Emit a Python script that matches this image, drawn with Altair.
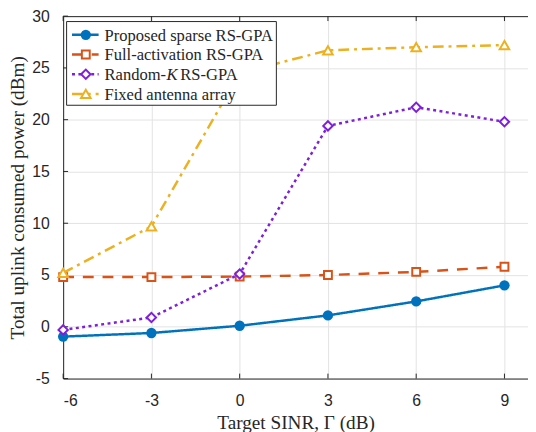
import altair as alt
import pandas as pd

# ---- data ----
sinr = [-6, -3, 0, 3, 6, 9]
proposed = [-0.95, -0.6, 0.1, 1.1, 2.45, 4.0]
full_act = [4.8, 4.8, 4.85, 5.0, 5.3, 5.8]
random_k = [-0.3, 0.9, 5.1, 19.4, 21.2, 19.8]
fixed = [5.2, 9.7, 24.5, 26.7, 27.0, 27.2]

x_ticks = [-6, -3, 0, 3, 6, 9]
y_ticks = [-5, 0, 5, 10, 15, 20, 25, 30]

W, H = 472, 368
SERIF = "Liberation Serif"
SANS = "Liberation Sans"
TICK = 5

series = [
    dict(name="Proposed sparse RS-GPA", vals=proposed, color="#0072BD",
         dash=[1, 0], shape="circle", filled=True, size=110),
    dict(name="Full-activation RS-GPA", vals=full_act, color="#D95319",
         dash=[11, 9], shape="square", filled=False, size=64),
    dict(name="Random-K RS-GPA", vals=random_k, color="#7E1FDB",
         dash=[3, 3.5], shape="diamond", filled=False, size=90),
    dict(name="Fixed antenna array", vals=fixed, color="#EDB120",
         dash=[11, 5, 3, 5], shape="triangle-up", filled=False, size=95),
]

xscale = alt.Scale(domain=[-6, 9.8], nice=False, zero=False)
yscale = alt.Scale(domain=[-5, 30], nice=False, zero=False)

xaxis = alt.Axis(values=x_ticks, title="Target SINR, Γ (dB)",
                 labelExpr="'' + datum.value", grid=True)
yaxis = alt.Axis(values=y_ticks, title="Total uplink consumed power (dBm)",
                 labelExpr="'' + datum.value", grid=True)

X = alt.X("x:Q", scale=xscale, axis=xaxis)
Y = alt.Y("y:Q", scale=yscale, axis=yaxis)

layers = []

# inward tick marks (MATLAB style)
xt = pd.DataFrame({"x": x_ticks})
yt = pd.DataFrame({"y": y_ticks})
tick_style = dict(color="#262626", strokeWidth=1)
layers.append(alt.Chart(xt).mark_rule(**tick_style).encode(
    x=X, y=alt.value(H - TICK), y2=alt.value(H)))
layers.append(alt.Chart(xt).mark_rule(**tick_style).encode(
    x=X, y=alt.value(0), y2=alt.value(TICK)))
layers.append(alt.Chart(yt).mark_rule(**tick_style).encode(
    y=Y, x=alt.value(0), x2=alt.value(TICK)))

for s in series:
    df = pd.DataFrame({"x": sinr, "y": s["vals"]})
    layers.append(alt.Chart(df).mark_line(color=s["color"], strokeWidth=2.5,
                                          strokeDash=s["dash"]).encode(x=X, y=Y))


def point_style(s):
    pt = dict(shape=s["shape"], size=s["size"], color=s["color"],
              strokeWidth=2, opacity=1)
    if s["filled"]:
        pt.update(filled=True, fill=s["color"])
    else:
        pt.update(filled=False, fill="white", fillOpacity=1, stroke=s["color"])
    return pt


for s in series:
    df = pd.DataFrame({"x": sinr, "y": s["vals"]})
    layers.append(alt.Chart(df).mark_point(**point_style(s)).encode(x=X, y=Y))

# top frame line
one = pd.DataFrame({"k": [0]})
layers.append(alt.Chart(one).mark_rule(color="#262626", strokeWidth=1).encode(
    x=alt.value(0), x2=alt.value(W), y=alt.value(0.5)))

# legend box
layers.append(alt.Chart(one).mark_rect(fill="white", stroke="#262626",
                                       strokeWidth=1).encode(
    x=alt.value(3.5), x2=alt.value(216.5), y=alt.value(5.5), y2=alt.value(90.5)))

for i, s in enumerate(series):
    yrow = 19 + 20 * i
    layers.append(alt.Chart(one).mark_rule(color=s["color"], strokeWidth=2.5,
                                           strokeDash=s["dash"]).encode(
        x=alt.value(9), x2=alt.value(36), y=alt.value(yrow)))
    layers.append(alt.Chart(one).mark_point(**point_style(s)).encode(
        x=alt.value(23), y=alt.value(yrow)))
    tstyle = dict(font=SERIF, fontSize=16.8, color="#262626", align="left",
                  baseline="middle")
    if s["name"].startswith("Random-K"):
        parts = [("Random-", 42, "normal"), ("K", 105, "italic"),
                 ("RS-GPA", 119, "normal")]
        for txt, xx, st in parts:
            layers.append(alt.Chart(one).mark_text(text=txt, fontStyle=st,
                                                   **tstyle).encode(
                x=alt.value(xx), y=alt.value(yrow + 1)))
    else:
        layers.append(alt.Chart(one).mark_text(text=s["name"], **tstyle).encode(
            x=alt.value(42), y=alt.value(yrow + 1)))

chart = alt.layer(*layers).properties(
    width=W, height=H,
    autosize=alt.AutoSizeParams(type="none"),
    padding={"left": 56, "top": 5, "right": 0, "bottom": 51},
).configure_view(stroke=None).configure_axis(
    domainColor="#262626", domainWidth=1,
    gridColor="#E3E3E3", gridWidth=1,
    tickSize=0,
    labelFont=SANS, labelFontSize=16, labelColor="#262626",
    titleFont=SERIF, titleFontSize=19.5, titleColor="#262626",
    titleFontWeight="normal",
).configure_axisX(labelPadding=14, titlePadding=6).configure_axisY(
    labelPadding=14, titlePadding=4)

chart.save("out.html", embed_options={"renderer": "svg", "actions": False})
